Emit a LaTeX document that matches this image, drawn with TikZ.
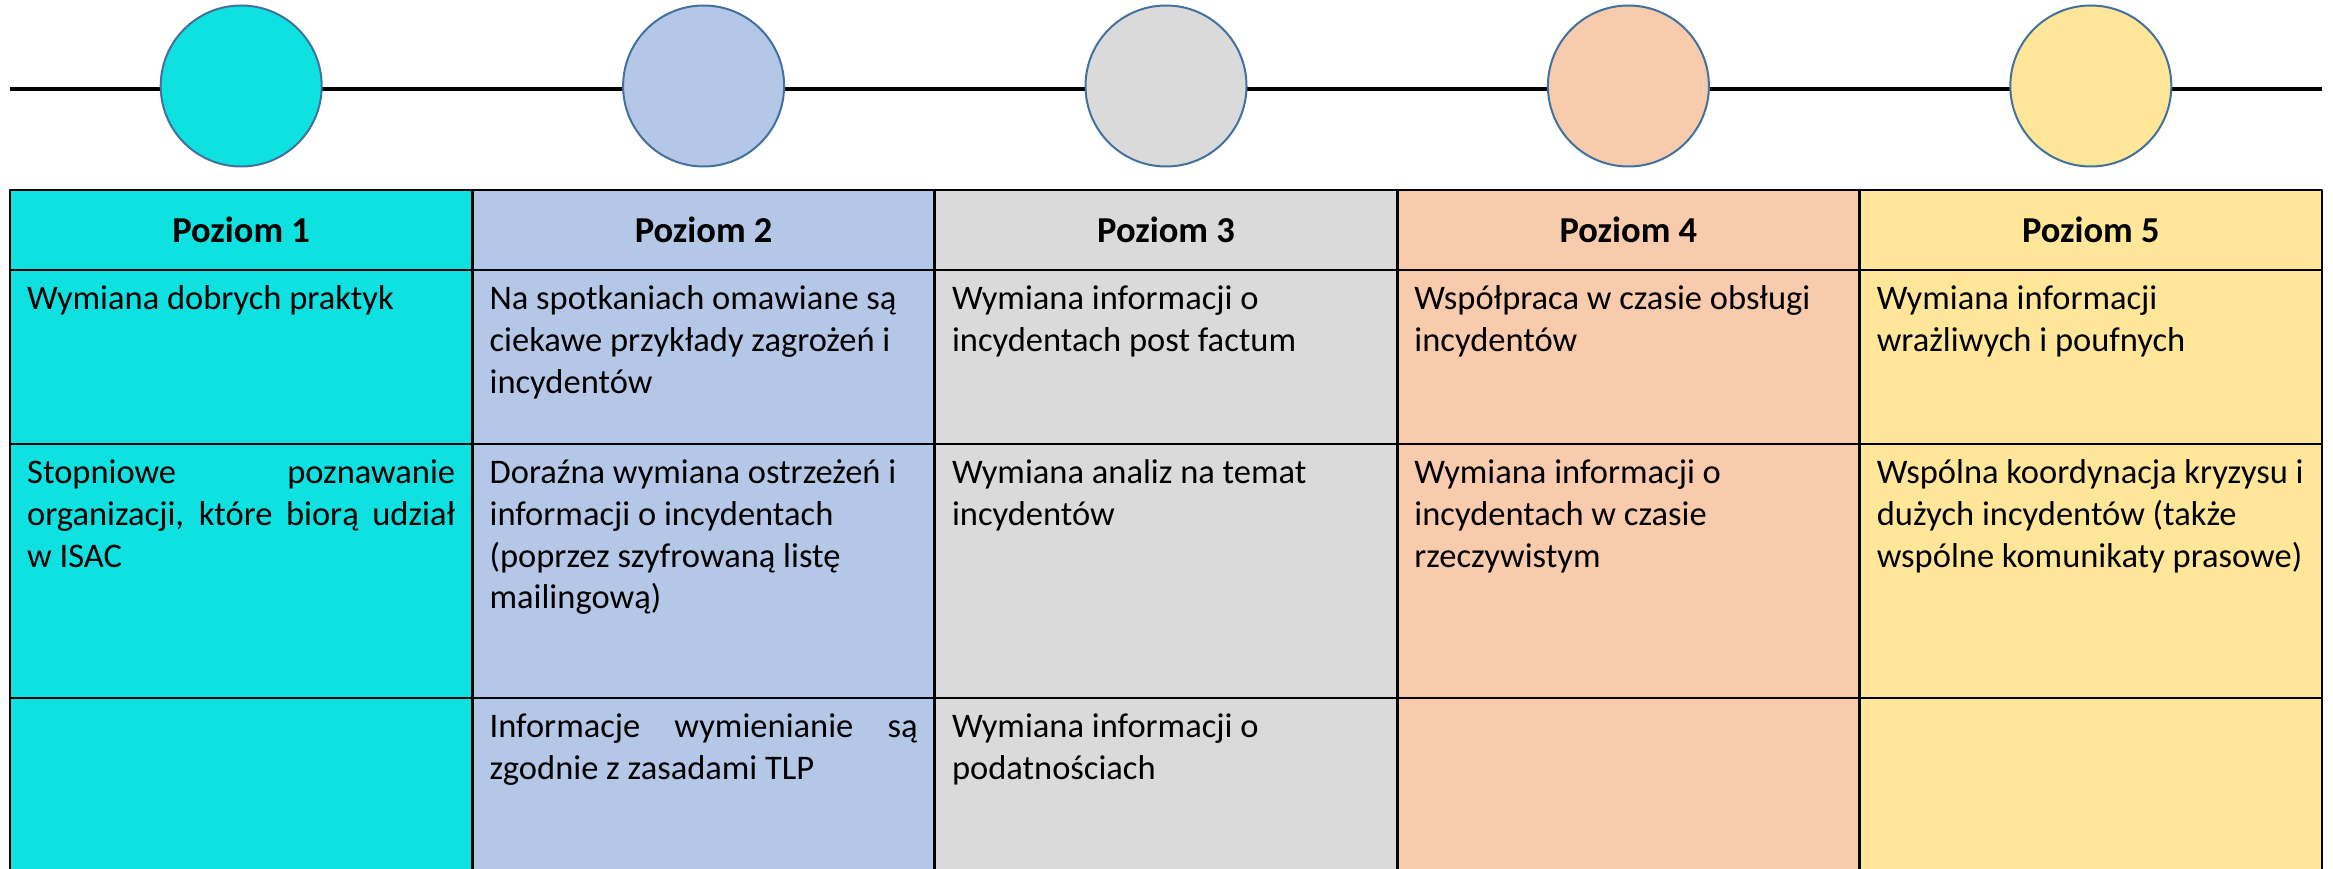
\documentclass[tikz,border=0pt]{standalone}
\usepackage{fontspec}
\setmainfont{Carlito}
\usetikzlibrary{positioning}
\definecolor{levelA}{HTML}{0FE1E1}
\definecolor{levelB}{HTML}{B4C7E7}
\definecolor{levelC}{HTML}{DADADA}
\definecolor{levelD}{HTML}{F8CBAD}
\definecolor{levelE}{HTML}{FFE699}
\definecolor{ringblue}{HTML}{41719C}
\newlength\cellw \setlength\cellw{428pt}
\newcommand\spread[1]{{\spaceskip=0pt\xspaceskip=0pt\makebox[\cellw][s]{#1}}}
\tikzset{
  cell/.style={rectangle,draw=black,line width=2.8pt,inner sep=0pt,outer sep=0pt,
    anchor=north west,minimum width=\colw},
  head/.style={inner sep=0pt,font=\bfseries\fontsize{36.5}{44}\selectfont},
  txt/.style={anchor=north west,inner sep=0pt,text width=440pt,align=flush left,
    font=\fontsize{34.5}{41.7}\selectfont,execute at begin node=\strut},
  dot/.style={circle,draw=ringblue,line width=2pt,minimum size=161pt,inner sep=0pt}
}
\begin{document}
\begin{tikzpicture}[x=1pt,y=-1pt,line join=round,line cap=round]
	\def\colw{462.4} \def\xl{10} \def\yt{190}
	\def\pad{17pt,-10.3pt}
	\useasboundingbox (0,0) rectangle (2333,869);
	\clip (0,0) rectangle (2333,869);
	% timeline behind the circles
	\coordinate (tlL) at (10,89);
	\coordinate (tlR) at (2322,89);
	\draw[line width=3.7pt,line cap=butt] (tlL)--(tlR);
	% columns: header, three rows, circle
	\foreach \c/\col in {1/levelA,2/levelB,3/levelC,4/levelD,5/levelE}{
		\node[cell,fill=\col,minimum height=80] (h\c) at ({\xl+(\c-1)*\colw},\yt) {};
		\node[cell,fill=\col,minimum height=174,below=0pt of h\c] (a\c) {};
		\node[cell,fill=\col,minimum height=254,below=0pt of a\c] (b\c) {};
		\node[cell,fill=\col,minimum height=240,below=0pt of b\c] (k\c) {};
		\node[head] (p\c) at (h\c) {Poziom \c};
		\node[dot,fill=\col] (d\c) at (h\c.north |- 0,86) {};
	}
	% row 1
	\node[txt] (ta1) at ([shift={(\pad)}]a1.north west) {Wymiana dobrych praktyk};
	\node[txt] (ta2) at ([shift={(\pad)}]a2.north west) {Na spotkaniach omawiane są\\ciekawe przykłady zagrożeń i\\incydentów};
	\node[txt] (ta3) at ([shift={(\pad)}]a3.north west) {Wymiana informacji o\\incydentach post factum};
	\node[txt] (ta4) at ([shift={(\pad)}]a4.north west) {Współpraca w czasie obsługi\\incydentów};
	\node[txt] (ta5) at ([shift={(\pad)}]a5.north west) {Wymiana informacji\\wrażliwych i poufnych};
	% row 2
	\node[txt] (tb1) at ([shift={(\pad)}]b1.north west) {\spread{Stopniowe poznawanie}\\\spread{organizacji, które biorą udział}\\w ISAC};
	\node[txt] (tb2) at ([shift={(\pad)}]b2.north west) {Doraźna wymiana ostrzeżeń i\\informacji o incydentach\\(poprzez szyfrowaną listę\\mailingową)};
	\node[txt] (tb3) at ([shift={(\pad)}]b3.north west) {Wymiana analiz na temat\\incydentów};
	\node[txt] (tb4) at ([shift={(\pad)}]b4.north west) {Wymiana informacji o\\incydentach w czasie\\rzeczywistym};
	\node[txt] (tb5) at ([shift={(\pad)}]b5.north west) {Wspólna koordynacja kryzysu i\\dużych incydentów (także\\wspólne komunikaty prasowe)};
	% row 3
	\node[txt] (tk2) at ([shift={(\pad)}]k2.north west) {\spread{Informacje wymienianie są}\\zgodnie z zasadami TLP};
	\node[txt] (tk3) at ([shift={(\pad)}]k3.north west) {Wymiana informacji o\\podatnościach};
\end{tikzpicture}
\end{document}
